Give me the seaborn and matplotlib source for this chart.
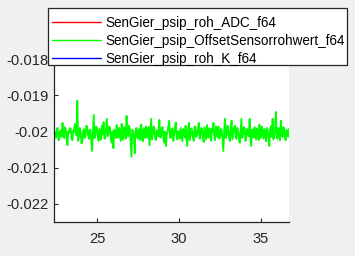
import numpy as np
import pandas as pd
import matplotlib
matplotlib.use("Agg")
import matplotlib.pyplot as plt
from matplotlib.lines import Line2D
from matplotlib.patches import Rectangle
import seaborn as sns

series_names = ["SenGier_psip_roh_ADC_f64",
                "SenGier_psip_OffsetSensorrohwert_f64",
                "SenGier_psip_roh_K_f64"]
series_colors = ["#ff0000", "#00ff00", "#0000ff"]

t_start = 22.4
t_step = 0.05
offset_values = [
    -0.02002, -0.02013, -0.02017, -0.01993, -0.01990, -0.02024, -0.02022, -0.01999, -0.01997, -0.02015,
    -0.01976, -0.02008, -0.02018, -0.01988, -0.01995, -0.02020, -0.02038, -0.02000, -0.02004, -0.01991,
    -0.01991, -0.02018, -0.02024, -0.01997, -0.02000, -0.01979, -0.01986, -0.02011, -0.01915, -0.02026,
    -0.02015, -0.01990, -0.01999, -0.02033, -0.02029, -0.02002, -0.01993, -0.02017, -0.02013, -0.01984,
    -0.01988, -0.02009, -0.02020, -0.01995, -0.01997, -0.02027, -0.02054, -0.02004, -0.01954, -0.02018,
    -0.02011, -0.01986, -0.01990, -0.02015, -0.02026, -0.01993, -0.02002, -0.02022, -0.01984, -0.02008,
    -0.01974, -0.02020, -0.02018, -0.01991, -0.01965, -0.02013, -0.02006, -0.01986, -0.01993, -0.02024,
    -0.02031, -0.02000, -0.02046, -0.01995, -0.01999, -0.02018, -0.01982, -0.02006, -0.02017, -0.01990,
    -0.02004, -0.02026, -0.01979, -0.02011, -0.02022, -0.01988, -0.01995, -0.02020, -0.01957, -0.02004,
    -0.02013, -0.01984, -0.01991, -0.02029, -0.02070, -0.01995, -0.02000, -0.02017, -0.02060, -0.01999,
    -0.01990, -0.02015, -0.02020, -0.01993, -0.02002, -0.02024, -0.01981, -0.02008, -0.02027, -0.01991,
    -0.01997, -0.02018, -0.01986, -0.02011, -0.02018, -0.01988, -0.02038, -0.02002, -0.01965, -0.02022,
    -0.02008, -0.01986, -0.01993, -0.02020, -0.02024, -0.01997, -0.02000, -0.02013, -0.01968, -0.02017,
    -0.02015, -0.01990, -0.01988, -0.02022, -0.02031, -0.02000, -0.02040, -0.02009, -0.01999, -0.01984,
    -0.01970, -0.02018, -0.02017, -0.01995, -0.01991, -0.02026, -0.02011, -0.01988, -0.01975, -0.02015,
    -0.02022, -0.01999, -0.02002, -0.02020, -0.01990, -0.02008, -0.02027, -0.01993, -0.01997, -0.02017,
    -0.01984, -0.02022, -0.02040, -0.01997, -0.01976, -0.02024, -0.02013, -0.01991, -0.01999, -0.02018,
    -0.02026, -0.01986, -0.01988, -0.02015, -0.02009, -0.01995, -0.01976, -0.02020, -0.02018, -0.01990,
    -0.01993, -0.02013, -0.02029, -0.01988, -0.02004, -0.02022, -0.01982, -0.02009, -0.02017, -0.01991,
    -0.02000, -0.02026, -0.01991, -0.02002, -0.01976, -0.02018, -0.02024, -0.01986, -0.02002, -0.02015,
    -0.01986, -0.02020, -0.02015, -0.01993, -0.01995, -0.02024, -0.02054, -0.01999, -0.01965, -0.02018,
    -0.02011, -0.01984, -0.01990, -0.02017, -0.02026, -0.01995, -0.01970, -0.02022, -0.02006, -0.01988,
    -0.01984, -0.02015, -0.02020, -0.01990, -0.01999, -0.02022, -0.02031, -0.01997, -0.01965, -0.02018,
    -0.02008, -0.01988, -0.01991, -0.02026, -0.02017, -0.01993, -0.02002, -0.02013, -0.01965, -0.02020,
    -0.02040, -0.01995, -0.02000, -0.02017, -0.01988, -0.02011, -0.02022, -0.01991, -0.01997, -0.02024,
    -0.01981, -0.02008, -0.02018, -0.01986, -0.02004, -0.02020, -0.01993, -0.02006, -0.02027, -0.01990,
    -0.01999, -0.02018, -0.02040, -0.01993, -0.01986, -0.02015, -0.01965, -0.02022, -0.02013, -0.01991,
    -0.01946, -0.02017, -0.02020, -0.01990, -0.01995, -0.02024, -0.01970, -0.02002, -0.02015, -0.01988,
    -0.01990, -0.02018, -0.02024, -0.01995, -0.02000, -0.02015, -0.01993,
]
x_ticks = [25, 30, 35]
y_ticks = [-0.022, -0.021, -0.02, -0.019, -0.018]
y_tick_labels = ["-0.022", "-0.021", "-0.02", "-0.019", "-0.018"]
x_limits = (22.38, 36.7)
y_limits = (-0.0225, -0.0175)

time = t_start + t_step * np.arange(len(offset_values))
df = pd.DataFrame({"t": time, "v": offset_values})

sns.set_theme(style="white")
plt.rcParams["font.family"] = ["Liberation Sans", "DejaVu Sans"]

fig = plt.figure(figsize=(3.55, 2.56), dpi=100, facecolor="#f0f0f0")
ax = fig.add_axes([54 / 355, 34 / 256, 235 / 355, 181 / 256])
ax.set_facecolor("white")

sns.lineplot(data=df, x="t", y="v", ax=ax, color=series_colors[1],
             linewidth=1.3, estimator=None, sort=False, legend=False)

ax.set_xlim(*x_limits)
ax.set_ylim(*y_limits)
ax.set_xticks(x_ticks)
ax.set_xticklabels([str(v) for v in x_ticks])
ax.set_yticks(y_ticks)
ax.set_yticklabels(y_tick_labels)
ax.set_xlabel("")
ax.set_ylabel("")
for s in ["top", "right"]:
    ax.spines[s].set_visible(False)
for s in ["left", "bottom"]:
    ax.spines[s].set_color("#262626")
    ax.spines[s].set_linewidth(0.9)
ax.tick_params(axis="both", direction="in", length=3, width=0.8, color="#262626",
               labelcolor="#262626", labelsize=10.6, left=True, bottom=True)
ax.tick_params(axis="y", pad=4)
ax.tick_params(axis="x", pad=7)

# legend frame (MATLAB style, tight on the right)
fig.patches.append(Rectangle((48 / 355, 1 - 65 / 256), 299 / 355, 57 / 256,
                             transform=fig.transFigure, facecolor="white",
                             edgecolor="#262626", linewidth=0.9, zorder=5))

handles = [Line2D([], [], color=c, linewidth=1.0) for c in series_colors]
leg = fig.legend(handles, series_names, loc="upper left",
                 bbox_to_anchor=(52 / 355, 1 - 15.5 / 256),
                 bbox_transform=fig.transFigure,
                 fontsize=9.75, handlelength=3.6, handletextpad=0.35,
                 labelspacing=0.32, borderpad=0, borderaxespad=0,
                 frameon=False)
leg.set_zorder(6)
for txt in leg.get_texts():
    txt.set_color("black")

fig.savefig("out.png", dpi=100, facecolor=fig.get_facecolor())
